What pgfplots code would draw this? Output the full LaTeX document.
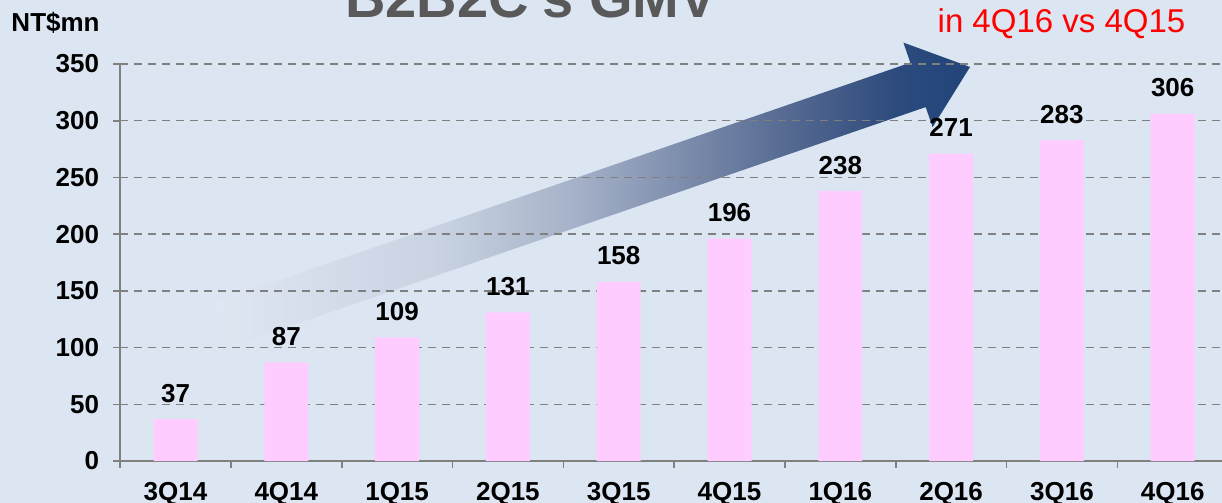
\documentclass[border=0pt]{standalone}
\usepackage{fontspec}
\setmainfont{Liberation Sans}
\usepackage{pgfplots}
\pgfplotsset{compat=1.18}
\definecolor{bgc}{RGB}{220,230,242}
\definecolor{bgl}{RGB}{223,231,243}
\definecolor{barpink}{RGB}{255,204,255}
\definecolor{gridgray}{RGB}{128,128,128}
\definecolor{titlegray}{RGB}{89,89,89}
\definecolor{ar1}{RGB}{200,210,225}
\definecolor{ar2}{RGB}{165,177,200}
\definecolor{ar3}{RGB}{85,105,145}
\definecolor{ar4}{RGB}{45,75,125}
\definecolor{navy}{RGB}{33,68,122}
\pgfdeclarehorizontalshading{arrowshade}{100bp}{color(0bp)=(bgl); color(25bp)=(bgl); color(40bp)=(ar1); color(49bp)=(ar2); color(63bp)=(ar3); color(70bp)=(ar4); color(75bp)=(navy); color(100bp)=(navy)}
\newcommand{\lab}{\fontsize{13}{13}\selectfont\bfseries}
\begin{document}
\begin{tikzpicture}[x=0.5pt,y=0.5pt]
\useasboundingbox (0,0) rectangle (1222,503);
\fill[bgc] (0,0) rectangle (1222,503);
\clip (0,0) rectangle (1222,503);
\shade[shading=arrowshade] (213.5,200.3) -- (910.3,440.3) -- (903.4,460.4) -- (970,436) -- (932.6,375.8) -- (925.7,395.9) -- (228.9,155.9) -- cycle;
\begin{axis}[
  at={(158.4,37)}, anchor=origin,
  scale only axis, width=554pt, height=198.5pt,
  xmin=-0.5, xmax=9.5, ymin=0, ymax=350,
  axis x line*=bottom, axis y line*=left,
  axis line style={draw=gridgray, line width=0.9pt},
  ybar, bar width=22pt,
  xtick={0,...,9},
  xticklabels={3Q14,4Q14,1Q15,2Q15,3Q15,4Q15,1Q16,2Q16,3Q16,4Q16},
  minor xtick={-0.5,0.5,...,9.5},
  ytick={0,50,...,350},
  tick align=outside,
  major tick length=3.5pt, minor tick length=3.5pt,
  tick style={draw=gridgray, line width=0.8pt},
  major x tick style={draw=none},
  ymajorgrids,
  major grid style={draw=gridgray, line width=0.75pt, dash pattern=on 4pt off 3pt},
  tick label style={font=\lab},
  xticklabel style={yshift=-3.8pt},
  yticklabel style={xshift=-3.5pt},
  /pgf/number format/assume math mode=true,
  nodes near coords,
  every node near coord/.append style={font=\lab, anchor=base, yshift=8.5pt},
]
\addplot[fill=barpink, draw=none] coordinates {
(0,37) (1,87) (2,109) (3,131) (4,158) (5,196) (6,238) (7,271) (8,283) (9,306)};
\end{axis}
\node[anchor=base, font=\fontsize{28}{28}\selectfont\bfseries, text=titlegray, inner sep=0pt] at (531,485) {B2B2C's GMV};
\node[anchor=base, font=\fontsize{16.5}{16.5}\selectfont, text=red, inner sep=0pt] at (1061.5,470) {in 4Q16 vs 4Q15};
\node[anchor=base east, font=\lab, inner sep=0pt] at (100,471) {NT\$mn};
\end{tikzpicture}
\end{document}
